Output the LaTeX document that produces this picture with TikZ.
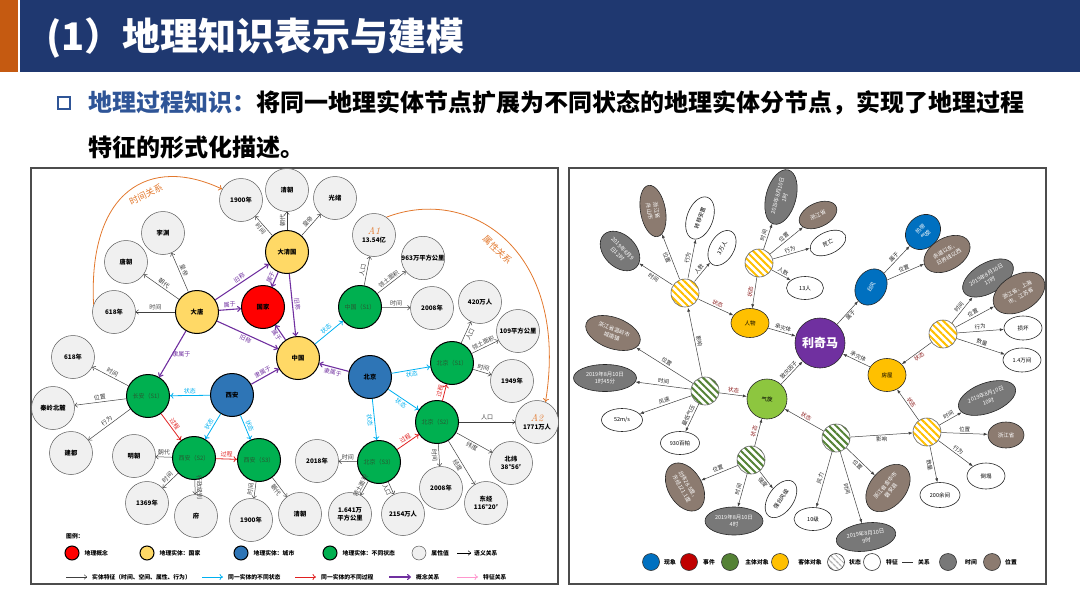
\documentclass[tikz,border=0pt]{standalone}
\usepackage{fontspec}
\setmainfont{Noto Sans CJK SC}
\newfontfamily\lmfont{Latin Modern Roman}
\usetikzlibrary{arrows.meta,shapes.geometric,patterns.meta}

\definecolor{barblue}{RGB}{31,56,112}
\definecolor{barorange}{RGB}{197,90,17}
\definecolor{txtblue}{RGB}{47,85,151}
\definecolor{cred}{RGB}{255,0,0}
\definecolor{cyellow}{RGB}{255,217,102}
\definecolor{cblue}{RGB}{46,117,182}
\definecolor{cgreen}{RGB}{0,176,80}
\definecolor{cgray}{RGB}{240,240,240}
\definecolor{stxt}{RGB}{40,90,50}
\definecolor{cpurple}{RGB}{112,48,160}
\definecolor{ccyan}{RGB}{0,176,240}
\definecolor{cproc}{RGB}{224,32,32}
\definecolor{corange}{RGB}{226,120,45}
\definecolor{cpink}{RGB}{255,150,205}
\definecolor{rblue}{RGB}{0,112,192}
\definecolor{rred}{RGB}{192,0,0}
\definecolor{rgreen}{RGB}{84,130,53}
\definecolor{ryellow}{RGB}{255,192,0}
\definecolor{rlime}{RGB}{141,198,63}
\definecolor{rpurple}{RGB}{112,48,160}
\definecolor{rgray}{RGB}{120,120,120}
\definecolor{rbrown}{RGB}{140,123,112}
\definecolor{rstate}{RGB}{140,30,30}
\definecolor{rline}{RGB}{64,64,64}

\newcommand\gnfont{\fontsize{6.3}{8.2}\selectfont\bfseries}
\newcommand\glfont{\fontsize{6}{6}\selectfont}
\newcommand\rnfont{\fontsize{5.5}{7.4}\selectfont}
\newcommand\lgfont{\fontsize{5.8}{6}\selectfont\bfseries}

\tikzset{
   geonode/.style={circle, minimum size=43pt, inner sep=0pt, align=center, font=\gnfont},
   gconcept/.style={geonode, draw=black, line width=1pt, fill=cred},
   gcountry/.style={geonode, draw=black, line width=1pt, fill=cyellow},
   gcity/.style={geonode, draw=black, line width=1pt, fill=cblue},
   gstate/.style={geonode, draw=black, line width=1pt, fill=cgreen, text=stxt, font=\fontsize{6}{7}\selectfont},
   gattr/.style={geonode, draw=black!65, line width=0.5pt, fill=cgray},
   lab/.style={midway, sloped, font=\glfont, inner sep=1.5pt},
   featarrow/.style={color=black!75, line width=0.5pt, -{To[length=3pt,width=5pt]}},
   statearrow/.style={color=ccyan, line width=0.8pt, -{To[length=3.5pt,width=6pt]}},
   procarrow/.style={color=cproc, line width=0.8pt, -{To[length=3.5pt,width=6pt]}},
   conarrow/.style={color=cpurple, line width=1.1pt, -{To[length=4pt,width=6pt]}},
   featlink/.style={color=cpink, line width=0.8pt, -{To[length=3.5pt,width=6pt]}},
   relcurve/.style={color=corange, line width=0.8pt, -{To[length=3.5pt,width=6pt]}},
   panelframe/.style={draw=black!70, line width=1.3pt},
   legdot/.style={circle, minimum size=14pt, inner sep=0pt, draw=black, line width=1pt},
   legtxt/.style={font=\lgfont, inner sep=0pt},
   rnode/.style={ellipse, inner sep=0pt, draw=black!85, line width=0.6pt, align=center, font=\rnfont},
   sz/.style 2 args={minimum width=#1pt, minimum height=#2pt},
   rtime/.style={rnode, fill=rgray, text=white},
   rplace/.style={rnode, fill=rbrown, text=white},
   rfeat/.style={rnode, fill=white},
   rphen/.style={rnode, fill=rblue, text=white},
   robj/.style={rnode, fill=ryellow},
   hatchy/.style={circle, minimum size=28pt, inner sep=0pt, draw=black!60, line width=0.6pt,
      preaction={fill=white}, pattern={Lines[angle=-45,distance=5pt,line width=2pt]}, pattern color=ryellow},
   hatchg/.style={hatchy, pattern color=rgreen},
   relarrow/.style={draw=rline, line width=0.5pt, -{Latex[length=4pt,width=3pt]}},
   rlab/.style={midway, sloped, font=\rnfont, text=black!85, inner sep=1.5pt},
   stlab/.style={rlab, text=rstate},
   rlegdot/.style={circle, minimum size=17pt, inner sep=0pt, draw=black!80, line width=0.6pt}
}

\begin{document}
\begin{tikzpicture}[x=1pt, y=-1pt]
\useasboundingbox (0,0) rectangle (1080,608);

% header
\fill[barorange] (0,0) rectangle (18,72);
\fill[barblue] (20,0) rectangle (1080,72);
\node[anchor=west, inner sep=0pt, text=white, font=\fontsize{38}{38}\selectfont\bfseries] (title) at (46,38) {(1）地理知识表示与建模};
\node[draw=txtblue, line width=1.8pt, minimum size=12pt, inner sep=0pt] (bullet) at (64,103) {};
\node[anchor=west, inner sep=0pt, font=\fontsize{24}{24}\selectfont\bfseries] (sub1) at (88,103)
   {\textcolor{txtblue}{地理过程知识：}将同一地理实体节点扩展为不同状态的地理实体分节点，实现了地理过程};
\node[anchor=west, inner sep=0pt, font=\fontsize{24}{24}\selectfont\bfseries] (sub2) at (88,147) {特征的形式化描述。};

% left panel
\draw[panelframe] (31,168) rectangle (558,584);

\node[gattr] (y1900a) at (241,200) {1900年};
\node[gattr] (qinga) at (287,190) {清朝};
\node[gattr] (guangxu) at (335,198) {光绪};
\node[gattr] (liyuan) at (163,233) {李渊};
\node[gattr] (tangchao) at (126,262) {唐朝};
\node[gattr] (y618a) at (114,312) {618年};
\node[gcountry] (datang) at (197,312) {大唐};
\node[gconcept] (guojia) at (263,307) {国家};
\node[gcountry] (daqing) at (287,252) {大清国};
\node[gcountry] (zhongguo) at (298,358) {中国};
\node[gattr] (pop1) at (374,235) {{\lmfont\itshape\mdseries\textcolor{corange}{\fontsize{10}{10}\selectfont A1}}\\13.54亿};
\node[gattr] (area1) at (423,258) {963万平方公里};
\node[gstate] (zgs1) at (360,307) {中国（S1）};
\node[gattr] (y2008a) at (432,308) {2008年};
\node[gattr] (pop420) at (480,302) {420万人};
\node[gattr] (area109) at (518,331) {109平方公里};
\node[gstate] (bjs1) at (452,363) {北京（S1）};
\node[gcity] (beijing) at (370,377) {北京};
\node[gattr] (y1949) at (512,381) {1949年};
\node[gstate] (bjs2) at (437,422) {北京（S2）};
\node[gattr] (pop1771) at (537,422) {{\lmfont\itshape\mdseries\textcolor{corange}{\fontsize{10}{10}\selectfont A2}}\\1771万人};
\node[gstate] (bjs3) at (379,462) {北京（S3）};
\node[gattr] (y2018) at (317,461) {2018年};
\node[gattr] (lat) at (511,463) {北纬\\38°56′};
\node[gattr] (y2008b) at (441,488) {2008年};
\node[gattr] (lon) at (486,503) {东经\\116°20′};
\node[gattr] (qingb) at (300,514) {清朝};
\node[gattr] (area1641) at (350,514) {1.641万\\平方公里};
\node[gattr] (pop2154) at (403,514) {2154万人};
\node[gattr] (y618b) at (73,357) {618年};
\node[gstate] (cas1) at (148,396) {长安（S1）};
\node[gcity] (xian) at (232,395) {西安};
\node[gattr] (qinling) at (53,408) {秦岭北麓};
\node[gattr] (jiandu) at (71,453) {建都};
\node[gattr] (mingchao) at (134,456) {明朝};
\node[gstate] (xas2) at (194,458) {西安（S2）};
\node[gstate] (xas3) at (259,460) {西安（S3）};
\node[gattr] (y1369) at (147,503) {1369年};
\node[gattr] (fu) at (196,516) {府};
\node[gattr] (y1900b) at (251,520) {1900年};

\draw[featarrow] (datang) -- (y618a) node[lab, above] {时间};
\draw[featarrow] (datang) -- (tangchao) node[lab, above] {朝代};
\draw[featarrow] (datang) -- (liyuan) node[lab, above] {皇帝};
\draw[featarrow] (daqing) -- (y1900a) node[lab, below] {时间};
\draw[featarrow] (daqing) -- (qinga) node[lab, above] {朝代};
\draw[featarrow] (daqing) -- (guangxu) node[lab, above] {皇帝};
\draw[featarrow] (zgs1) -- (pop1) node[lab, above] {人口};
\draw[featarrow] (zgs1) -- (area1) node[lab, above] {领土面积};
\draw[featarrow] (zgs1) -- (y2008a) node[lab, above] {时间};
\draw[featarrow] (bjs1) -- (pop420) node[lab, below] {人口};
\draw[featarrow] (bjs1) -- (area109) node[lab, above] {领土面积};
\draw[featarrow] (bjs1) -- (y1949) node[lab, above] {时间};
\draw[featarrow] (bjs2) -- (pop1771) node[lab, above] {人口};
\draw[featarrow] (bjs2) -- (lat) node[lab, below] {纬度};
\draw[featarrow] (bjs2) -- (lon) node[lab, below] {经度};
\draw[featarrow] (bjs2) -- (y2008b) node[lab, below] {时间};
\draw[featarrow] (bjs3) -- (y2018) node[lab, above] {时间};
\draw[featarrow] (bjs3) -- (area1641) node[lab, above] {领土面积};
\draw[featarrow] (bjs3) -- (pop2154) node[lab, below] {人口};
\draw[featarrow] (xas3) -- (y1900b) node[lab, above] {时间};
\draw[featarrow] (xas3) -- (qingb) node[lab, below] {朝代};
\draw[featarrow] (xas2) -- (mingchao) node[lab, above] {朝代};
\draw[featarrow] (xas2) -- (y1369) node[lab, above] {时间};
\draw[featarrow] (xas2) -- (fu) node[lab, above] {行政级别};
\draw[featarrow] (cas1) -- (y618b) node[lab, above] {时间};
\draw[featarrow] (cas1) -- (qinling) node[lab, above] {位置};
\draw[featarrow] (cas1) -- (jiandu) node[lab, above] {行为};

\draw[conarrow] (datang) -- (guojia) node[lab, above] {属于};
\draw[conarrow] (datang) -- (daqing) node[lab, above] {旧称};
\draw[conarrow] (datang) -- (zhongguo) node[lab, below] {旧称};
\draw[conarrow] (datang) -- (cas1) node[midway, right, xshift=-4pt, font=\glfont] {隶属于};
\draw[conarrow] (daqing) -- (guojia) node[lab, above] {属于};
\draw[conarrow] (daqing) -- (zhongguo) node[lab, above] {旧称};
\draw[conarrow] (zhongguo) -- (guojia) node[lab, below] {属于};
\draw[conarrow] (xian) -- (zhongguo) node[lab, above] {隶属于};
\draw[conarrow] (beijing) -- (zhongguo) node[lab, below] {隶属于};

\draw[statearrow] (zhongguo) -- (zgs1) node[lab, above] {状态};
\draw[statearrow] (xian) -- (cas1) node[lab, above] {状态};
\draw[statearrow] (xian) -- (xas2) node[lab, above] {状态};
\draw[statearrow] (xian) -- (xas3) node[lab, above] {状态};
\draw[statearrow] (beijing) -- (bjs1) node[lab, below] {状态};
\draw[statearrow] (beijing) -- (bjs2) node[lab, below] {状态};
\draw[statearrow] (beijing) -- (bjs3) node[lab, below] {状态};

\draw[procarrow] (cas1) -- (xas2) node[lab, above] {过程};
\draw[procarrow] (xas2) -- (xas3) node[lab, above] {过程};
\draw[procarrow] (bjs3) -- (bjs2) node[lab, above] {过程};
\draw[procarrow] (bjs2) -- (bjs1) node[lab, above] {过程};

\draw[relcurve] (y618a.160) .. controls (88,190) and (150,155) .. (y1900a.150)
   node[pos=0.58, sloped, below=4pt, font=\fontsize{9}{9}\selectfont] {时间关系};
\draw[relcurve] (pop1.55) .. controls (470,185) and (570,250) .. (pop1771.67)
   node[pos=0.5, sloped, below=5pt, font=\fontsize{9}{9}\selectfont] {属性关系};

\node[legtxt, anchor=west] (legend) at (66,536) {图例：};
\foreach \c/\x/\t [count=\i] in {cred/72/地理概念, cyellow/147/地理实体：国家, cblue/241/地理实体：城市, cgreen/330/地理实体：不同状态}{
   \node[legdot, fill=\c] (ld\i) at (\x,553) {};
   \node[legtxt, anchor=west] (lt\i) at ([xshift=5pt]ld\i.east) {\t};
}
\node[legdot, fill=cgray, draw=black!65, line width=0.5pt] (ld5) at (419,553) {};
\node[legtxt, anchor=west] (lt5) at ([xshift=5pt]ld5.east) {属性值};
\coordinate (lsa) at (457,553);
\coordinate (lsb) at (471,553);
\draw[featarrow, color=black] (lsa) -- (lsb);
\node[legtxt, anchor=west] (lt6) at ([xshift=3pt]lsb) {语义关系};
\foreach \s/\xa/\xb/\t [count=\i] in {featarrow/66/87/实体特征（时间、空间、属性、行为）, statearrow/202/223/同一实体的不同状态, procarrow/295/316/同一实体的不同过程, conarrow/389/411/概念关系, featlink/457/478/特征关系}{
   \coordinate (la\i) at (\xa,577);
   \coordinate (lb\i) at (\xb,577);
   \draw[\s] (la\i) -- (lb\i);
   \node[legtxt, anchor=west] (lc\i) at ([xshift=5pt]lb\i) {\t};
}

% right panel
\draw[panelframe] (569,168) rectangle (1046,584);

\node[rnode, fill=rpurple, circle, minimum size=50pt, text=white, font=\fontsize{12}{12}\selectfont\bfseries] (likima) at (820,343) {利奇马};
\node[robj, sz={38}{29}] (renwu) at (750,323) {人物};
\node[robj, sz={38}{33}] (fangwu) at (887,375) {房屋};
\node[rnode, circle, fill=rlime, minimum size=40pt] (qixuan) at (767,399) {气旋};
\node[rphen, sz={38}{30}, rotate=60] (taifeng) at (871,287) {台风};
\node[rphen, sz={38}{32}, rotate=45] (rdqx) at (923,232) {热带\\气旋};
\node[rplace, sz={50}{32}, rotate=30] (chidao) at (947,254) {赤道以东、\\日界线以西};

\node[hatchy] (sa) at (685,293) {};
\node[hatchy] (sb) at (759,263) {};
\node[hatchy] (sd) at (943,334) {};
\node[hatchy] (sf) at (927,432) {};
\node[hatchg] (sc) at (705,391) {};
\node[hatchg] (se) at (751,460) {};
\node[hatchg] (sg) at (836,438) {};

\node[rtime, sz={46}{32}, rotate=-45] (t0912) at (620,251) {2019年8月9\\日12时};
\node[rplace, sz={52}{25}, rotate=-80] (zhoushan) at (653,211) {浙江省\\舟山市};
\node[rfeat, sz={44}{26}, rotate=70] (zhuanyi) at (700,218) {转移安置};
\node[rfeat, sz={38}{24}, rotate=60] (wan3) at (722,248) {3万人};
\node[rtime, sz={56}{30}, rotate=75] (t1001) at (781,197) {2019年8月10日\\1时};
\node[rplace, sz={40}{24}, rotate=25] (zjs1) at (818,215) {浙江省};
\node[rfeat, sz={38}{22}, rotate=25] (siwang) at (828,243) {死亡};
\node[rfeat, sz={37}{23}] (ren13) at (805,288) {13人};
\node[rplace, sz={57}{31}, rotate=-20] (wenling) at (613,333) {浙江省温岭市\\城南镇};
\node[rtime, sz={56}{30}, rotate=30] (t1017) at (988,278) {2019年8月10日\\17时};
\node[rplace, sz={56}{36}, rotate=30] (zsj) at (1019,293) {浙江省、上海\\市、江苏省};
\node[rfeat, sz={38}{24}] (sunhuai) at (1023,328) {损坏};
\node[rfeat, sz={38}{24}] (jian14) at (1022,360) {1.4万间};
\node[rtime, sz={60}{30}, rotate=20] (t1010) at (987,398) {2019年8月10日\\10时};
\node[rplace, sz={36}{26}] (zjs2) at (1006,435) {浙江省};
\node[rfeat, sz={38}{26}] (daota) at (986,476) {倒塌};
\node[rfeat, sz={40}{25}] (jian200) at (940,495) {200余间};
\node[rplace, sz={54}{36}, rotate=50] (panan) at (888,488) {浙江省金华市\\磐安县};
\node[rtime, sz={60}{28}, rotate=8] (t1009) at (866,537) {2019年8月10日\\9时};
\node[rfeat, sz={38}{23}] (ji10) at (813,519) {10级};
\node[rfeat, sz={42}{25}, rotate=55] (qiang) at (781,499) {强台风级};
\node[rtime, sz={58}{28}] (t1004) at (734,521) {2019年8月10日\\4时};
\node[rplace, sz={52}{34}, rotate=-60] (beiwei) at (685,487) {北纬28.5度，\\东经121.1度};
\node[rfeat, sz={39}{23}] (p930) at (680,443) {930百帕};
\node[rfeat, sz={41}{23}] (v52) at (622,420) {52m/s};
\node[rtime, sz={63}{27}] (t0145) at (605,378) {2019年8月10日\\1时45分};

\draw[relarrow] (sa) -- (t0912) node[rlab, below] {时间};
\draw[relarrow] (sa) -- (zhoushan) node[rlab, below] {位置};
\draw[relarrow] (sa) -- (zhuanyi) node[rlab, above] {行为};
\draw[relarrow] (sa) -- (wan3) node[rlab, above] {人数};
\draw[relarrow] (sa) -- (renwu) node[stlab, above] {状态};
\draw[relarrow] (sb) -- (t1001) node[rlab, above] {时间};
\draw[relarrow] (sb) -- (zjs1) node[rlab, above] {位置};
\draw[relarrow] (sb) -- (siwang) node[rlab, above] {行为};
\draw[relarrow] (sb) -- (ren13) node[rlab, above] {人数};
\draw[relarrow] (sb) -- (renwu) node[stlab, above] {状态};
\draw[relarrow] (renwu) -- (likima) node[rlab, above] {承灾体};
\draw[relarrow] (likima) -- (taifeng) node[rlab, below] {属于};
\draw[relarrow] (taifeng) -- (rdqx) node[rlab, above] {属于};
\draw[relarrow] (taifeng) -- (chidao) node[rlab, above] {位置};
\draw[relarrow] (sd) -- (t1017) node[rlab, above] {时间};
\draw[relarrow] (sd) -- (zsj) node[rlab, above] {位置};
\draw[relarrow] (sd) -- (sunhuai) node[rlab, above] {行为};
\draw[relarrow] (sd) -- (jian14) node[rlab, above] {数量};
\draw[relarrow] (sd) -- (fangwu) node[stlab, below] {状态};
\draw[relarrow] (fangwu) -- (likima) node[rlab, above] {承灾体};
\draw[relarrow] (qixuan) -- (likima) node[rlab, above] {致灾因子};
\draw[relarrow] (sc) -- (wenling) node[rlab, above] {位置};
\draw[relarrow] (sc) -- (t0145) node[rlab, above] {时间};
\draw[relarrow] (sc) -- (v52) node[rlab, above] {风速};
\draw[relarrow] (sc) -- (p930) node[rlab, above] {最低气压};
\draw[relarrow] (sc) -- (qixuan) node[stlab, above] {状态};
\draw[relarrow] (sc) -- (sa) node[rlab, above] {影响};
\draw[relarrow] (se) -- (beiwei) node[rlab, above] {位置};
\draw[relarrow] (se) -- (t1004) node[rlab, above] {时间};
\draw[relarrow] (se) -- (qiang) node[rlab, below] {强度};
\draw[relarrow] (se) -- (qixuan) node[stlab, above] {状态};
\draw[relarrow] (sg) -- (qixuan) node[stlab, above] {状态};
\draw[relarrow] (sg) -- (sf) node[rlab, below] {影响};
\draw[relarrow] (sg) -- (ji10) node[rlab, above] {风力};
\draw[relarrow] (sg) -- (t1009) node[rlab, below] {时间};
\draw[relarrow] (sg) -- (panan) node[rlab, below] {位置};
\draw[relarrow] (sf) -- (t1010) node[rlab, above] {时间};
\draw[relarrow] (sf) -- (zjs2) node[rlab, above] {位置};
\draw[relarrow] (sf) -- (daota) node[rlab, above] {行为};
\draw[relarrow] (sf) -- (jian200) node[rlab, below] {数量};
\draw[relarrow] (sf) -- (fangwu) node[stlab, above] {状态};

\foreach \c/\x/\t/\tx [count=\i] in {rblue/651/现象/670, rred/689/事件/709, rgreen/730/主体对象/757, ryellow/780/客体对象/810, white/872/特征/892, rgray/948/时间/971, rbrown/992/位置/1011}{
   \node[rlegdot, fill=\c] (rl\i) at (\x,562) {};
   \node[legtxt] (rt\i) at (\tx,562) {\t};
}
\node[rlegdot, preaction={fill=white}, pattern={Lines[angle=-45,distance=4pt,line width=1.5pt]}, pattern color=black!30] (rl8) at (836,562) {};
\node[legtxt] (rt8) at (855,562) {状态};
\coordinate (rla) at (902,562);
\coordinate (rlb) at (913,562);
\draw[black!80, line width=0.6pt] (rla) -- (rlb);
\node[legtxt] (rt9) at (924,562) {关系};
\end{tikzpicture}
\end{document}
